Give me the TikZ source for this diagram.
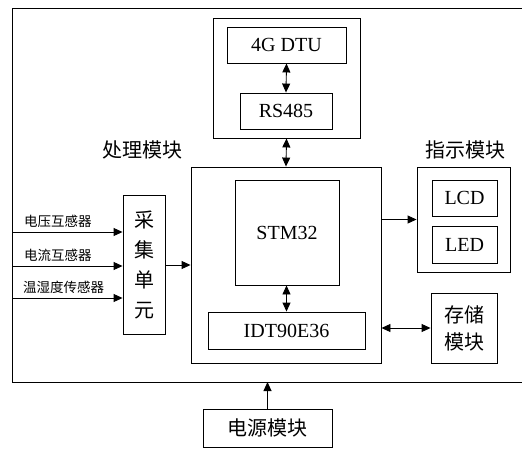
\documentclass[tikz,border=0pt]{standalone}
\usepackage{fontspec}
\setmainfont{Liberation Serif}
\newfontfamily\cjk{Noto Sans CJK SC}
\usetikzlibrary{arrows.meta,positioning}

\tikzset{
    blk/.style={draw, line width=0.9pt, inner sep=0pt, font=\fontsize{20}{24}\selectfont},
    zh/.style={font=\cjk\fontsize{20}{26}\selectfont},
    sens/.style={font=\cjk\fontsize{13.5}{16}\selectfont, anchor=south west, inner sep=1pt},
    arr/.style={line width=0.9pt, -{Triangle[length=9pt,width=8pt]}},
    darr/.style={line width=0.9pt, {Triangle[length=9pt,width=8pt]}-{Triangle[length=9pt,width=8pt]}},
}

\begin{document}
\begin{tikzpicture}[x=1pt,y=-1pt]
    \useasboundingbox (0,0) rectangle (522,448);
    % outer frame, open on the right
    \draw[line width=0.9pt] (522,8) -- (12,8) -- (12,382) -- (522,382);

    % communication
    \node[blk, minimum width=147, minimum height=120] (comm) at (286.5,78) {};
    \node[blk, minimum width=119, minimum height=36] (dtu) at (286.5,45) {4G DTU};
    \node[blk, minimum width=92, minimum height=36] (rs) at (286,111) {RS485};

    % processing
    \node[zh] (proclabel) at (142,150) {处理模块};
    \node[blk, minimum width=190, minimum height=196] (proc) at (286,265) {};
    \node[blk, minimum width=104, minimum height=105] (stm) at (287,232.5) {STM32};
    \node[blk, minimum width=157, minimum height=37] (idt) at (286.5,330.5) {IDT90E36};

    % acquisition
    \node[blk, minimum width=42, minimum height=139, align=center,
        font=\cjk\fontsize{20}{30}\selectfont] (acq) at (144,265) {采\\集\\单\\元};
    \coordinate (s1) at (12,232);
    \coordinate (s2) at (12,266);
    \coordinate (s3) at (12,298);
    \node[sens] (l1) at (23,229) {电压互感器};
    \node[sens] (l2) at (23,263) {电流互感器};
    \node[sens] (l3) at (22,295) {温湿度传感器};

    % indication
    \node[zh] (indlabel) at (465,150) {指示模块};
    \node[blk, minimum width=93, minimum height=105] (ind) at (463.5,219.5) {};
    \node[blk, minimum width=65, minimum height=36] (lcd) at (464.5,198) {LCD};
    \node[blk, minimum width=65, minimum height=37] (led) at (464.5,244.5) {LED};

    % storage and power
    \node[blk, minimum width=66, minimum height=70, align=center,
        font=\cjk\fontsize{20}{27}\selectfont] (sto) at (464,328) {存储\\模块};
    \node[blk, zh, minimum width=129, minimum height=38] (pwr) at (267.5,428) {电源模块};
    \coordinate (fb) at (267.5,382);

    % connectors
    \draw[darr] (dtu.south) -- (rs.north);
    \draw[darr] (comm.south) -- (proc.north);
    \draw[darr] (stm.south -| idt.north) -- (idt.north);
    \draw[arr] (s1) -- (acq.west |- s1);
    \draw[arr] (s2) -- (acq.west |- s2);
    \draw[arr] (s3) -- (acq.west |- s3);
    \draw[arr] (acq.east) -- (proc.west |- acq.east);
    \draw[arr] (proc.east |- ind.west) -- (ind.west);
    \draw[darr] (proc.east |- sto.west) -- (sto.west);
    \draw[arr] (pwr.north) -- (fb);
\end{tikzpicture}
\end{document}
